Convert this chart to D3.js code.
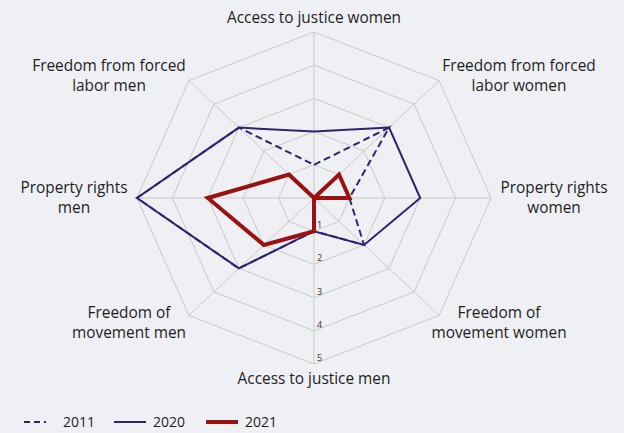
<!DOCTYPE html>
<html>
<head>
<meta charset="utf-8">
<script src="https://cdn.jsdelivr.net/npm/d3@7"></script>
<style>
  body { margin: 0; background: #eef0f4; }
  svg { display: block; font-family: "Open Sans", sans-serif; }
</style>
</head>
<body>
<div id="chart"></div>
<script>
// axes, clockwise from the top
var categories = [
    "Access to justice women",
    "Freedom from forced|labor women",
    "Property rights|women",
    "Freedom of|movement women",
    "Access to justice men",
    "Freedom of|movement men",
    "Property rights|men",
    "Freedom from forced|labor men"
];
var years = ["2011", "2020", "2021"];
var values2011 = [1, 3, 1, 2, 1, 3, 5, 3];
var values2020 = [2, 3, 3, 2, 1, 3, 5, 3];
var values2021 = [0, 1, 1, 0, 1, 2, 3, 1];
var ticks = [1, 2, 3, 4, 5];

var width = 624, height = 433;
var cx = 314, cy = 198;

// the plot is a little wider than tall
var rx = d3.scaleLinear().domain([0, 5]).range([0, 177]);
var ry = d3.scaleLinear().domain([0, 5]).range([0, 166]);

var angle = d3.scalePoint().domain(d3.range(categories.length)).range([0, 2 * Math.PI * 7 / 8]);

function px(i, v) { return cx + rx(v) * Math.sin(angle(i)); }
function py(i, v) { return cy - ry(v) * Math.cos(angle(i)); }

var svg = d3.select("#chart").append("svg")
    .attr("width", width)
    .attr("height", height);

svg.append("rect").attr("width", width).attr("height", height).attr("fill", "#eef0f4");

var ring = d3.line()
    .x(function(d) { return px(d.i, d.v); })
    .y(function(d) { return py(d.i, d.v); })
    .curve(d3.curveLinearClosed);

// grid rings
var grid = svg.append("g").attr("class", "grid");
ticks.forEach(function(t) {
    grid.append("path")
        .attr("d", ring(categories.map(function(c, i) { return {i: i, v: t}; })))
        .attr("fill", "none")
        .attr("stroke", "#c9c9c9")
        .attr("stroke-width", 1);
});
categories.forEach(function(c, i) {
    grid.append("line")
        .attr("x1", cx).attr("y1", cy)
        .attr("x2", px(i, 5)).attr("y2", py(i, 5))
        .attr("stroke", "#c9c9c9")
        .attr("stroke-width", 1);
});

// tick labels on the lower spoke
var bottom = categories.indexOf("Access to justice men");
svg.append("g").selectAll("text")
    .data(ticks)
    .join("text")
    .attr("x", cx + 3)
    .attr("y", function(t) { return py(bottom, t) - 3; })
    .style("font-size", "9px")
    .attr("fill", "#333")
    .text(function(t) { return t; });

// series
var series = [
    {name: years[0], values: values2011, color: "#2e2473", width: 2, dash: "7,4"},
    {name: years[1], values: values2020, color: "#2e2473", width: 2, dash: null},
    {name: years[2], values: values2021, color: "#9b1111", width: 4, dash: null}
];

series.forEach(function(s) {
    svg.append("path")
        .attr("d", ring(s.values.map(function(v, i) { return {i: i, v: v}; })))
        .attr("fill", "none")
        .attr("stroke", s.color)
        .attr("stroke-width", s.width)
        .attr("stroke-linejoin", "miter")
        .attr("stroke-dasharray", s.dash);
});

// axis labels, centred at a fixed distance out from each spoke
var lineH = 20;
categories.forEach(function(c, i) {
    var lines = c.split("|");
    var a = angle(i), s = Math.sin(a), k = Math.cos(a);
    var vy = py(i, 5);
    var t = svg.append("text")
        .attr("text-anchor", "middle")
        .style("font-size", "15.4px")
        .attr("fill", "#1e1e1e");
    lines.forEach(function(l) { t.append("tspan").text(l); });
    var lx, ly;
    if (Math.abs(s) < 0.1) {
        lx = cx;
        ly = k > 0 ? vy - 9 - (lines.length - 1) * lineH : vy + 8 + 12;
    } else {
        var dx = Math.abs(k) < 0.1 ? 240 : (k > 0 ? 205 : 185);
        lx = cx + Math.sign(s) * dx;
        var midY = vy - k * 6 + (k < -0.1 ? 3 : 0);
        ly = midY - (lines.length - 1) * lineH / 2 + 5;
    }
    t.selectAll("tspan")
        .attr("x", lx)
        .attr("y", function(d, j) { return ly + j * lineH; });
});

// legend
var legend = svg.append("g").attr("transform", "translate(24,422)");
series.forEach(function(s, i) {
    var g = legend.append("g").attr("transform", "translate(" + [0, 90, 182][i] + ",0)");
    g.append("line")
        .attr("x1", 0).attr("x2", s.dash ? 22 : 32)
        .attr("stroke", s.color)
        .attr("stroke-width", s.width)
        .attr("stroke-dasharray", s.dash ? "6,4" : null);
    g.append("text")
        .attr("x", 39)
        .attr("y", 5)
        .style("font-size", "14px")
        .attr("fill", "#1e1e1e")
        .text(s.name);
});
</script>
</body>
</html>
